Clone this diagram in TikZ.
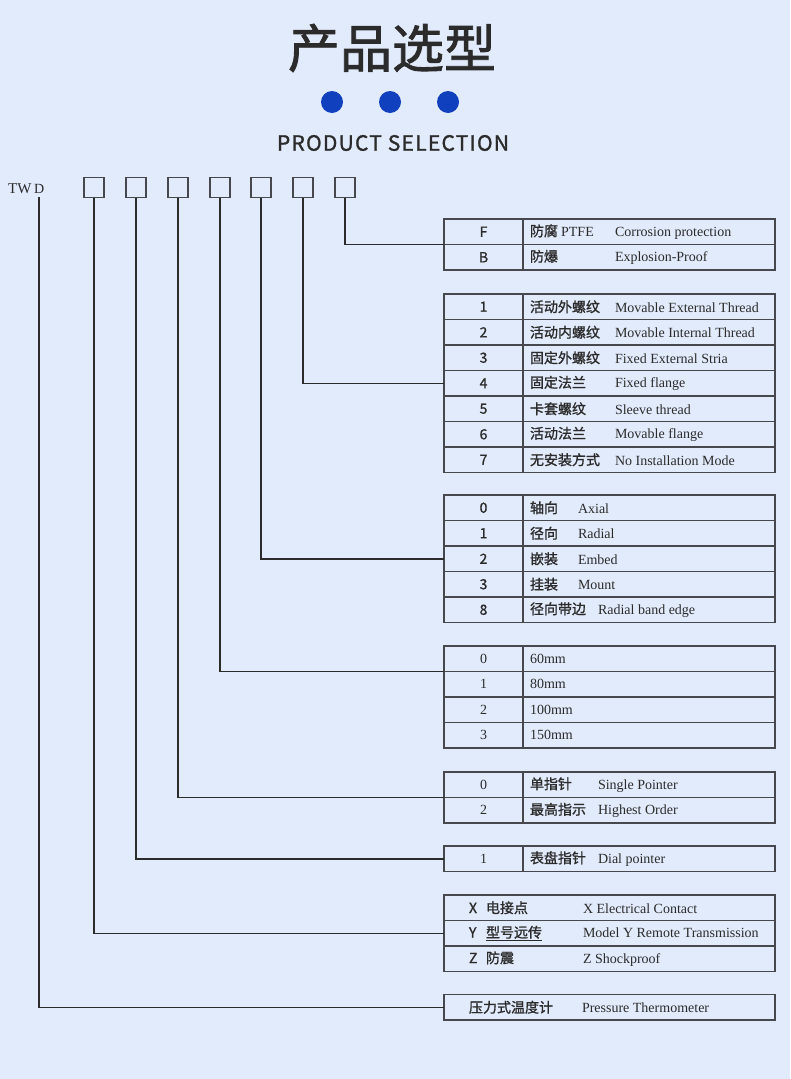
\documentclass[tikz,border=0pt]{standalone}
\usepackage{fontspec}
\setmainfont{Liberation Serif}
\newfontfamily\cjk[FakeBold=1.2]{Noto Sans CJK SC}
\newfontfamily\cjkhead[FakeBold=1.6]{Noto Sans CJK SC}
\usetikzlibrary{positioning}

\definecolor{pagebg}{RGB}{226,235,251}
\definecolor{ink}{RGB}{43,43,43}
\definecolor{border}{RGB}{70,72,78}
\definecolor{dotblue}{RGB}{16,64,190}

\tikzset{
  wire/.style={draw=ink, line width=1.5pt},
  selbox/.style={draw=border, line width=1.3pt, minimum size=20pt, inner sep=0pt, outer sep=0pt},
  codecell/.style={draw=border, line width=1.5pt, minimum width=79pt, minimum height=25.5pt,
    inner sep=0pt, outer sep=0pt, anchor=north west, text=ink},
  textcell/.style={draw=border, line width=1.5pt, minimum width=252pt, minimum height=25.5pt,
    inner sep=0pt, outer sep=0pt, text=ink, font=\fontsize{14}{16}\selectfont},
  widecell/.style={draw=border, line width=1.5pt, minimum width=331pt, minimum height=25.5pt,
    inner sep=0pt, outer sep=0pt, anchor=north west, text=ink, font=\fontsize{14}{16}\selectfont},
  sanscode/.style={font=\cjk\fontsize{14}{16}\selectfont},
  serifcode/.style={font=\fontsize{14}{16}\selectfont},
  dot/.style={circle, fill=dotblue, minimum size=22pt, inner sep=0pt}
}

\begin{document}
\begin{tikzpicture}[x=1pt, y=-1pt]

  % page
  \fill[pagebg] (0,0) rectangle (790,1079);
  \useasboundingbox (0,0) rectangle (790,1079);

  % heading
  \node[text=ink, font=\cjkhead\fontsize{52}{58}\selectfont] (title) at (392,48) {产品选型};
  \node[dot] (dot1) at (332,102) {};
  \node[dot] (dot2) at (390,102) {};
  \node[dot] (dot3) at (448,102) {};
  \node[text=ink, font=\cjk\fontsize{21}{24}\selectfont] (subtitle) at (393,143)
    {\addfontfeatures{LetterSpace=6}PRODUCT SELECTION};

  % model code
  \node[anchor=base west, inner sep=0pt, text=ink, font=\fontsize{15}{17}\selectfont] (twd) at (8,193)
    {TW\,{\fontsize{14}{16}\selectfont D}};
  \coordinate (twdfoot) at (39,197);
  \foreach \x [count=\i] in {94,136,178,220,261,303,345}
    \node[selbox] (box\i) at (\x,187.5) {};

  % F / B
  \foreach \code/\zh/\en [count=\i] in {F/{防腐 {\rmfamily PTFE}}/Corrosion protection,
                                       B/防爆/Explosion-Proof}{
    \node[codecell, sanscode] (ta\i) at (444,{219+25.5*(\i-1)}) {\code};
    \node[textcell, right=0pt of ta\i] (tax\i)
      {\makebox[252pt][l]{\hspace*{7pt}\makebox[85pt][l]{\cjk\zh}\en}};
  }

  % connection
  \foreach \code/\zh/\en [count=\i] in {1/活动外螺纹/Movable External Thread,
                                       2/活动内螺纹/Movable Internal Thread,
                                       3/固定外螺纹/Fixed External Stria,
                                       4/固定法兰/Fixed flange,
                                       5/卡套螺纹/Sleeve thread,
                                       6/活动法兰/Movable flange,
                                       7/无安装方式/No Installation Mode}{
    \node[codecell, sanscode] (tb\i) at (444,{294+25.5*(\i-1)}) {\code};
    \node[textcell, right=0pt of tb\i] (tbx\i)
      {\makebox[252pt][l]{\hspace*{7pt}\makebox[85pt][l]{\cjk\zh}\en}};
  }

  % mounting direction
  \foreach \code/\zh/\gap/\en [count=\i] in {0/轴向/48pt/Axial,
                                             1/径向/48pt/Radial,
                                             2/嵌装/48pt/Embed,
                                             3/挂装/48pt/Mount,
                                             8/径向带边/68pt/Radial band edge}{
    \node[codecell, sanscode] (tc\i) at (444,{495+25.5*(\i-1)}) {\code};
    \node[textcell, right=0pt of tc\i] (tcx\i)
      {\makebox[252pt][l]{\hspace*{7pt}\makebox[\gap][l]{\cjk\zh}\en}};
  }

  % dial size
  \foreach \code/\en [count=\i] in {0/60mm, 1/80mm, 2/100mm, 3/150mm}{
    \node[codecell, serifcode] (td\i) at (444,{646+25.5*(\i-1)}) {\code};
    \node[textcell, right=0pt of td\i] (tdx\i) {\makebox[252pt][l]{\hspace*{7pt}\en}};
  }

  % pointer
  \foreach \code/\zh/\en [count=\i] in {0/单指针/Single Pointer,
                                       2/最高指示/Highest Order}{
    \node[codecell, serifcode] (te\i) at (444,{772+25.5*(\i-1)}) {\code};
    \node[textcell, right=0pt of te\i] (tex\i)
      {\makebox[252pt][l]{\hspace*{7pt}\makebox[68pt][l]{\cjk\zh}\en}};
  }

  \node[codecell, serifcode] (tf1) at (444,846) {1};
  \node[textcell, right=0pt of tf1] (tfx1)
    {\makebox[252pt][l]{\hspace*{7pt}\makebox[68pt][l]{\cjk 表盘指针}Dial pointer}};

  % function
  \foreach \code/\zh/\en [count=\i] in {X/电接点/X Electrical Contact,
                                       Y/\underline{型号远传}/Model Y Remote Transmission,
                                       Z/防震/Z Shockproof}{
    \node[widecell] (tg\i) at (444,{895+25.5*(\i-1)})
      {\makebox[331pt][l]{\hspace*{25pt}\makebox[17pt][l]{\cjk\code}\makebox[97pt][l]{\cjk\zh}\en}};
  }

  \node[widecell] (th) at (444,994.5)
    {\makebox[331pt][l]{\hspace*{25pt}\makebox[113pt][l]{\cjk 压力式温度计}Pressure Thermometer}};

  % leaders
  \draw[wire] (box7.south) |- (ta1.south west);
  \draw[wire] (box6.south) |- (tb4.west);
  \draw[wire] (box5.south) |- (tc3.west);
  \draw[wire] (box4.south) |- (td1.south west);
  \draw[wire] (box3.south) |- (te1.south west);
  \draw[wire] (box2.south) |- (tf1.west);
  \draw[wire] (box1.south) |- (tg2.west);
  \draw[wire] (twdfoot) |- (th.west);

\end{tikzpicture}
\end{document}
